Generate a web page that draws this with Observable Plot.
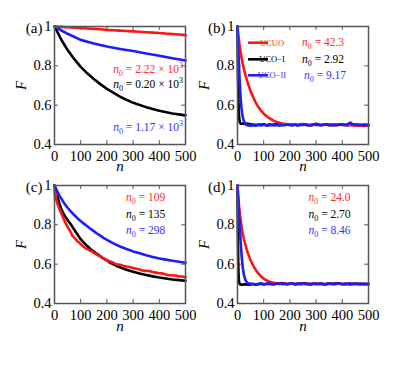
<!DOCTYPE html>
<html><head><meta charset="utf-8">
<script src="https://cdn.jsdelivr.net/npm/d3@7"></script>
<script src="https://cdn.jsdelivr.net/npm/@observablehq/plot@0.6"></script>
<style>
body{margin:0;background:#fff;}
#wrap{position:relative;width:415px;height:370px;font-family:serif;}
#wrap svg{position:absolute;overflow:visible;}
#wrap svg text, #wrap svg tspan{font-family:serif !important;}
</style></head><body><div id="wrap"></div>
<script>
// ---------- data (n, F) ----------
const xTicks = [0, 100, 200, 300, 400, 500];
const yTicks = [0.4, 0.6, 0.8, 1];

// panel (a)
const aRed = [[0,1],[25,0.998],[50,0.996],[75,0.994],[100,0.992],[125,0.990],[150,0.988],[175,0.986],[200,0.983],[225,0.981],[250,0.979],[275,0.977],[300,0.975],[325,0.973],[350,0.971],[375,0.969],[400,0.967],[425,0.964],[450,0.962],[475,0.959],[500,0.956]];
const aBlack = [[0,1],[10,0.975],[25,0.935],[50,0.88],[75,0.835],[100,0.795],[125,0.762],[150,0.733],[175,0.707],[200,0.683],[250,0.643],[300,0.612],[350,0.59],[400,0.572],[450,0.558],[500,0.548]];
const aBlue = [[0,1],[25,0.981],[50,0.963],[100,0.932],[150,0.914],[200,0.898],[250,0.886],[300,0.875],[350,0.863],[400,0.851],[450,0.839],[500,0.827]];

// panel (b)
const bRedHead = [[0,1],[3,0.96],[6,0.925],[10,0.885],[15,0.845],[20,0.81],[25,0.78],[30,0.755],[40,0.71],[50,0.67],[60,0.64],[70,0.612],[80,0.59],[90,0.572],[100,0.557],[110,0.545],[120,0.535],[130,0.527],[140,0.52],[150,0.514],[160,0.51],[170,0.507],[180,0.505],[190,0.503]];
const bRedTail = [0.503,0.500,0.502,0.498,0.501,0.504,0.499,0.500,0.497,0.501,0.503,0.499,0.498,0.502,0.500,0.497,0.499,0.501,0.498,0.500,0.502,0.499,0.497,0.500,0.498,0.496,0.495,0.497,0.494,0.496,0.495];
const bBlackHead = [[0,1],[1,0.85],[2,0.74],[3,0.66],[4,0.6],[5,0.565],[6,0.54],[8,0.52],[10,0.51],[12,0.506],[15,0.505]];
const bBlackTail = [0.507,0.504,0.506,0.503,0.501,0.499,0.502,0.500,0.503,0.498,0.501,0.499,0.502,0.504,0.500,0.498,0.501,0.503,0.499,0.500,0.502,0.498,0.500,0.503,0.501,0.499,0.497,0.501,0.506,0.502,0.499,0.501,0.503,0.500,0.498,0.502,0.499,0.501,0.503,0.500,0.498,0.501,0.499,0.502,0.500,0.497,0.501,0.499,0.500];
const bBlueHead = [[0,1],[2,0.93],[4,0.86],[6,0.79],[8,0.73],[10,0.68],[12,0.635],[14,0.6],[16,0.575],[18,0.555],[20,0.54],[23,0.525],[26,0.513],[30,0.505],[35,0.499],[40,0.497]];
const bBlueTail = [0.496,0.498,0.495,0.499,0.497,0.500,0.496,0.498,0.501,0.497,0.499,0.496,0.500,0.498,0.502,0.499,0.497,0.500,0.498,0.501,0.499,0.502,0.497,0.500,0.503,0.499,0.501,0.498,0.500,0.502,0.499,0.501,0.497,0.500,0.502,0.499,0.498,0.503,0.511,0.502,0.503,0.499,0.501,0.498,0.500,0.499];

// panel (c)
const cRed = [[0,1],[2,0.935],[4,0.962],[6,0.93],[9,0.918],[13,0.9],[18,0.885],[25,0.862],[30,0.846],[35,0.83],[42,0.81],[50,0.79],[56,0.776],[62,0.762],[68,0.745],[75,0.737],[81,0.727],[87,0.717],[94,0.711],[100,0.701],[106,0.695],[112,0.688],[119,0.680],[125,0.677],[131,0.672],[137,0.667],[144,0.664],[150,0.657],[162,0.648],[175,0.638],[187,0.628],[200,0.619],[212,0.614],[225,0.607],[237,0.599],[250,0.597],[262,0.592],[275,0.588],[287,0.586],[300,0.580],[312,0.577],[325,0.573],[337,0.567],[350,0.566],[362,0.565],[375,0.560],[387,0.557],[400,0.554],[412,0.553],[425,0.548],[437,0.544],[450,0.543],[462,0.542],[475,0.538],[487,0.537],[500,0.533]];
const cBlack = [[0,1],[6,0.968],[12,0.94],[18,0.912],[25,0.883],[31,0.866],[37,0.85],[44,0.836],[50,0.824],[62,0.803],[75,0.776],[87,0.752],[100,0.727],[112,0.71],[125,0.692],[137,0.677],[150,0.664],[162,0.652],[175,0.64],[187,0.629],[200,0.619],[212,0.608],[225,0.599],[237,0.591],[250,0.584],[275,0.572],[300,0.562],[325,0.553],[350,0.545],[375,0.538],[400,0.532],[425,0.527],[450,0.522],[475,0.519],[500,0.516]];
const cBlue = [[0,1],[6,0.983],[12,0.966],[18,0.951],[25,0.935],[37,0.91],[50,0.887],[62,0.868],[75,0.85],[87,0.834],[100,0.82],[112,0.806],[125,0.793],[137,0.78],[150,0.768],[162,0.756],[175,0.745],[187,0.734],[200,0.724],[225,0.706],[250,0.69],[275,0.677],[300,0.665],[325,0.655],[350,0.645],[375,0.637],[400,0.629],[425,0.623],[450,0.617],[475,0.612],[500,0.607]];

// panel (d)
const dRedHead = [[0,1],[3,0.94],[6,0.895],[10,0.845],[15,0.795],[20,0.755],[25,0.725],[30,0.7],[35,0.675],[40,0.655],[45,0.637],[50,0.62],[60,0.593],[70,0.57],[80,0.552],[90,0.537],[100,0.526],[110,0.518],[120,0.512],[130,0.508],[140,0.505],[150,0.503]];
const dRedTail = [0.502,0.500,0.501,0.499,0.502,0.500,0.498,0.501,0.503,0.499,0.500,0.502,0.498,0.501,0.499,0.500,0.502,0.499,0.497,0.500,0.501,0.499,0.502,0.500,0.498,0.501,0.499,0.503,0.500,0.498,0.501,0.499,0.500,0.498,0.500];
const dBlackHead = [[0,1],[1,0.82],[2,0.69],[3,0.6],[4,0.55],[5,0.525],[6,0.51],[8,0.5],[10,0.497]];
const dBlackTail = [0.496,0.498,0.495,0.497,0.499,0.496,0.498,0.500,0.497,0.499,0.501,0.498,0.500,0.502,0.499,0.504,0.501,0.498,0.500,0.502,0.499,0.501,0.498,0.500,0.503,0.499,0.497,0.500,0.502,0.499,0.501,0.498,0.500,0.502,0.499,0.501,0.503,0.500,0.498,0.501,0.499,0.497,0.500,0.502,0.499,0.498,0.500,0.499,0.498];
const dBlueHead = [[0,1],[2,0.95],[4,0.9],[6,0.85],[8,0.8],[10,0.76],[12,0.715],[14,0.675],[16,0.64],[18,0.61],[20,0.585],[22,0.565],[25,0.545],[28,0.528],[32,0.515],[36,0.507],[40,0.503],[45,0.5]];
const dBlueTail = [0.502,0.499,0.497,0.500,0.503,0.498,0.500,0.502,0.499,0.497,0.501,0.503,0.499,0.500,0.498,0.502,0.500,0.497,0.499,0.501,0.503,0.499,0.497,0.500,0.502,0.498,0.500,0.501,0.497,0.499,0.502,0.500,0.498,0.501,0.503,0.499,0.497,0.500,0.502,0.498,0.500,0.499,0.501,0.498,0.500,0.499];

// annotation texts
const aNotes = [["2.22", "3"], ["0.20", "3"], ["1.17", "3"]];
const bLegend = ["UCUO", "UCO\u2212I", "UCO\u2212II"];
const bNotes = ["42.3", "2.92", "9.17"];
const cNotes = ["109", "135", "298"];
const dNotes = ["24.0", "2.70", "8.46"];

// ---------- helpers ----------
const RED = "#ff1414", BLACK = "#000000", BLUE = "#1c1cff";
const TRED = "#ff2a2a", TBLUE = "#3333ff";
const withTail = (head, start, tail) => head.concat(tail.map((F, i) => [start + 10 * i, F]));

const wrap = d3.select("#wrap");
const FONT = "serif";

function nLabel(g, x, y, val, sup, color, anchor) {
  const t = g.append("text").attr("x", x).attr("y", y).attr("fill", color)
    .attr("text-anchor", anchor).attr("font-family", FONT).attr("font-size", 11.5);
  t.append("tspan").attr("font-style", "italic").text("n");
  t.append("tspan").attr("font-size", 8).attr("dy", 3).text("0");
  t.append("tspan").attr("dy", -3).text(" = " + val + (sup ? " \u00d7 10" : ""));
  if (sup) t.append("tspan").attr("font-size", 8).attr("dy", -5).text(sup);
}

function panel({left, top, tag, series, nDy, extra}) {
  const marks = [
    Plot.ruleX(xTicks, {x: d => d, y1: 0.4, y2: 0.42, stroke: "#555", strokeWidth: 1}),
    Plot.ruleX(xTicks, {x: d => d, y1: 1, y2: 0.98, stroke: "#555", strokeWidth: 1}),
    Plot.ruleY(yTicks, {y: d => d, x1: 0, x2: 15, stroke: "#555", strokeWidth: 1}),
    Plot.ruleY(yTicks, {y: d => d, x1: 485, x2: 500, stroke: "#555", strokeWidth: 1}),
    ...series.map(s => Plot.line(s.pts, {x: d => d[0], y: d => d[1], stroke: s.color, strokeWidth: 2.6, strokeLinejoin: "round"})),
    Plot.frame({stroke: "#555", strokeWidth: 1.5}),
    Plot.axisX({ticks: xTicks, tickSize: 0, tickPadding: 6, label: null, fontSize: 14.5}),
    Plot.axisY({ticks: yTicks, tickSize: 0, tickPadding: 3, label: null, fontSize: 14.5, tickFormat: d => d === 1 ? "1" : d3.format(".1f")(d)}),
    Plot.text([tag], {frameAnchor: "top-left", text: d => d, dx: -12, dy: 2, textAnchor: "end", lineAnchor: "middle", fontSize: 15}),
    Plot.text(["F"], {frameAnchor: "left", text: d => d, dx: -33, rotate: -90, fontStyle: "italic", fontSize: 15, textAnchor: "middle", lineAnchor: "middle"}),
    Plot.text(["n"], {frameAnchor: "bottom", text: d => d, dy: nDy, fontStyle: "italic", fontSize: 15, textAnchor: "middle", lineAnchor: "bottom"})
  ];
  const plot = Plot.plot({
    width: 207, height: 185, marginLeft: 54, marginRight: 22, marginTop: 26, marginBottom: 41,
    style: {fontFamily: FONT, fontSize: "14.5px", background: "transparent", color: "#000"},
    x: {domain: [0, 500]}, y: {domain: [0.4, 1]},
    marks
  });
  plot.style.left = left + "px";
  plot.style.top = top + "px";
  wrap.node().appendChild(plot);
  const g = d3.select(plot).append("g");
  extra(g, plot.scale("x"), plot.scale("y"));
}

// (a)
panel({left: 0, top: 0, tag: "(a)", nDy: 26,
  series: [{pts: aBlack, color: BLACK}, {pts: aBlue, color: BLUE}, {pts: aRed, color: RED}],
  extra: (g) => {
    const cols = [TRED, BLACK, TBLUE], ys = [73, 88, 130.5];
    aNotes.forEach((d, i) => nLabel(g, 183, ys[i], d[0], d[1], cols[i], "end"));
  }});

// (b)
panel({left: 182.5, top: 0, tag: "(b)", nDy: 26,
  series: [{pts: withTail(bBlackHead, 20, bBlackTail), color: BLACK}, {pts: withTail(bRedHead, 200, bRedTail), color: RED}, {pts: withTail(bBlueHead, 50, bBlueTail), color: BLUE}],
  extra: (g) => {
    const cols = [RED, BLACK, BLUE], tcols = [TRED, BLACK, TBLUE], ys = [42.7, 59.3, 75.3];
    bLegend.forEach((lab, i) => {
      g.append("line").attr("x1", 65).attr("x2", 85).attr("y1", ys[i]).attr("y2", ys[i]).attr("stroke", cols[i]).attr("stroke-width", 2.6);
      g.append("text").attr("x", 89).attr("y", ys[i] + 3).attr("fill", tcols[i]).attr("font-family", FONT).attr("font-size", 8.5).text(lab);
      nLabel(g, i === 2 ? 121 : 119, ys[i] + 3.5, bNotes[i], null, tcols[i], "start");
    });
  }});

// (c)
panel({left: 0, top: 159, tag: "(c)", nDy: 27,
  series: [{pts: cBlack, color: BLACK}, {pts: cRed, color: RED}, {pts: cBlue, color: BLUE}],
  extra: (g) => {
    const cols = [TRED, BLACK, TBLUE], ys = [42, 58.5, 75];
    cNotes.forEach((d, i) => nLabel(g, 126, ys[i], d, null, cols[i], "start"));
  }});

// (d)
panel({left: 182.5, top: 159, tag: "(d)", nDy: 27,
  series: [{pts: withTail(dBlackHead, 20, dBlackTail), color: BLACK}, {pts: withTail(dRedHead, 160, dRedTail), color: RED}, {pts: withTail(dBlueHead, 50, dBlueTail), color: BLUE}],
  extra: (g) => {
    const cols = [TRED, BLACK, TBLUE], ys = [42, 58.5, 75];
    dNotes.forEach((d, i) => nLabel(g, 125.5, ys[i], d, null, cols[i], "start"));
  }});
</script></body></html>
